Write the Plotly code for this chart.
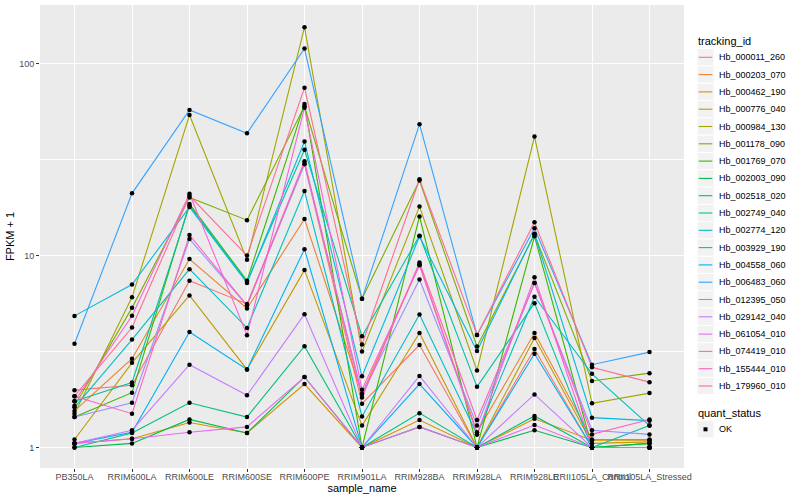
import plotly.graph_objects as go

samples = ["PB350LA", "RRIM600LA", "RRIM600LE", "RRIM600SE", "RRIM600PE", "RRIM901LA",
           "RRIM928BA", "RRIM928LA", "RRIM928LE", "RRII105LA_Control", "RRII105LA_Stressed"]

tracking_ids = ["Hb_000011_260", "Hb_000203_070", "Hb_000462_190", "Hb_000776_040", "Hb_000984_130",
                "Hb_001178_090", "Hb_001769_070", "Hb_002003_090", "Hb_002518_020", "Hb_002749_040",
                "Hb_002774_120", "Hb_003929_190", "Hb_004558_060", "Hb_006483_060", "Hb_012395_050",
                "Hb_029142_040", "Hb_061054_010", "Hb_074419_010", "Hb_155444_010", "Hb_179960_010"]

colors = ["#F8766D", "#EA8331", "#D89000", "#C09B00", "#A3A500", "#7CAE00", "#39B600", "#00BB4E",
          "#00BF7D", "#00C1A3", "#00BFC4", "#00BAE0", "#00B0F6", "#35A2FF", "#9590FF", "#C77CFF",
          "#E76BF3", "#FA62DB", "#FF62BC", "#FF6C91"]

# FPKM + 1 values per tracking_id, one per sample
Hb_000011_260 = [1.99, 2.11, 7.4, 5.6, 30.0, 1.69, 3.42, 1.0, 3.26, 1.0, 1.0]
Hb_000203_070 = [1.55, 2.90, 9.6, 5.3, 15.5, 1.90, 9.0, 1.2, 3.95, 1.10, 1.10]
Hb_000462_190 = [1.05, 1.11, 1.35, 1.19, 2.14, 1.0, 1.39, 1.0, 1.41, 1.09, 1.09]
Hb_000776_040 = [1.10, 2.76, 6.2, 2.55, 8.4, 1.30, 3.95, 1.0, 3.72, 1.05, 1.07]
Hb_000984_130 = [1.50, 6.06, 54.0, 9.5, 155.0, 3.16, 18.0, 2.52, 41.7, 1.70, 1.92]
Hb_001178_090 = [1.65, 5.34, 20.1, 15.3, 60.0, 5.95, 24.6, 3.36, 12.9, 2.22, 2.44]
Hb_001769_070 = [1.44, 1.93, 18.6, 7.4, 61.6, 1.0, 16.0, 1.0, 12.6, 1.0, 1.05]
Hb_002003_090 = [1.0, 1.05, 1.40, 1.19, 2.33, 1.0, 1.28, 1.0, 1.23, 1.0, 1.05]
Hb_002518_020 = [1.0, 1.19, 1.71, 1.44, 3.37, 1.0, 1.51, 1.0, 1.46, 1.0, 1.0]
Hb_002749_040 = [1.74, 2.18, 18.2, 7.3, 35.6, 3.80, 12.7, 2.07, 5.65, 1.0, 1.30]
Hb_002774_120 = [1.62, 3.65, 8.5, 4.2, 21.7, 1.45, 4.93, 1.17, 6.1, 2.42, 1.30]
Hb_003929_190 = [4.85, 7.07, 17.9, 7.2, 39.3, 2.35, 12.6, 3.18, 13.0, 1.43, 1.38]
Hb_004558_060 = [1.05, 1.20, 4.0, 2.55, 10.8, 1.0, 2.14, 1.0, 3.08, 1.0, 1.0]
Hb_006483_060 = [3.47, 21.1, 57.4, 43.4, 120.0, 5.95, 48.4, 3.86, 13.9, 2.70, 3.14]
Hb_012395_050 = [1.44, 1.71, 12.2, 5.5, 30.0, 1.90, 7.5, 1.30, 7.2, 1.23, 1.17]
Hb_029142_040 = [1.05, 1.23, 2.70, 1.87, 4.95, 1.0, 2.36, 1.0, 1.89, 1.0, 1.0]
Hb_061054_010 = [1.05, 1.11, 1.20, 1.28, 2.33, 1.0, 1.28, 1.0, 1.31, 1.0, 1.0]
Hb_074419_010 = [1.74, 4.86, 21.0, 3.85, 59.0, 2.0, 8.9, 1.17, 7.7, 1.0, 1.0]
Hb_155444_010 = [1.85, 1.50, 12.8, 5.5, 31.0, 1.82, 9.2, 1.39, 7.2, 1.17, 1.40]
Hb_179960_010 = [1.85, 4.22, 20.5, 10.0, 75.0, 3.44, 25.0, 3.86, 14.9, 2.62, 2.19]

series = [Hb_000011_260, Hb_000203_070, Hb_000462_190, Hb_000776_040, Hb_000984_130,
          Hb_001178_090, Hb_001769_070, Hb_002003_090, Hb_002518_020, Hb_002749_040,
          Hb_002774_120, Hb_003929_190, Hb_004558_060, Hb_006483_060, Hb_012395_050,
          Hb_029142_040, Hb_061054_010, Hb_074419_010, Hb_155444_010, Hb_179960_010]

y_ticks = [1, 10, 100]
y_tick_labels = ["1", "10", "100"]
quant_status = "OK"

FONT = "Liberation Sans"
W, H = 800, 500
ML, MR, MT, MB = 40, 116, 5, 32
PW, PH = W - ML - MR, H - MT - MB


def px(xp):  # pixel x -> paper x
    return (xp - ML) / PW


def py(yp):  # pixel y -> paper y
    return (H - MB - yp) / PH


fig = go.Figure()

for i, (tid, vals) in enumerate(zip(tracking_ids, series)):
    fig.add_trace(go.Scatter(
        x=samples, y=vals, mode="lines", name=tid,
        line=dict(color=colors[i], width=1.1),
        hoverinfo="skip", showlegend=False,
    ))

all_x, all_y = [], []
for vals in series:
    all_x += samples
    all_y += vals
fig.add_trace(go.Scatter(
    x=all_x, y=all_y, mode="markers", name=quant_status,
    marker=dict(color="black", size=4.5, symbol="circle"),
    showlegend=False,
))

# hand-built ggplot-style legend
shapes, annotations = [], []
KX0, KX1 = 697, 714
LX = 716.5
annotations.append(dict(text="tracking_id", x=px(696), y=py(40.7), xref="paper", yref="paper",
                        xanchor="left", yanchor="middle", showarrow=False,
                        font=dict(family=FONT, size=11, color="black")))
for i, tid in enumerate(tracking_ids):
    yc = 57.3 + 17.3 * i
    shapes.append(dict(type="rect", xref="paper", yref="paper",
                       x0=px(KX0), x1=px(KX1), y0=py(yc - 8.65), y1=py(yc + 8.65),
                       fillcolor="#F2F2F2", line=dict(color="white", width=1), layer="above"))
    shapes.append(dict(type="line", xref="paper", yref="paper",
                       x0=px(KX0 + 1.7), x1=px(KX1 - 1.7), y0=py(yc), y1=py(yc),
                       line=dict(color=colors[i], width=1.1), layer="above"))
    annotations.append(dict(text=tid, x=px(LX), y=py(yc), xref="paper", yref="paper",
                            xanchor="left", yanchor="middle", showarrow=False,
                            font=dict(family=FONT, size=9, color="black")))

annotations.append(dict(text="quant_status", x=px(696), y=py(412.7), xref="paper", yref="paper",
                        xanchor="left", yanchor="middle", showarrow=False,
                        font=dict(family=FONT, size=11, color="black")))
yc = 429.3
shapes.append(dict(type="rect", xref="paper", yref="paper",
                   x0=px(KX0), x1=px(KX1), y0=py(yc - 8.65), y1=py(yc + 8.65),
                   fillcolor="#F2F2F2", line=dict(color="white", width=1), layer="above"))
shapes.append(dict(type="rect", xref="paper", yref="paper",
                   x0=px(703.5), x1=px(707.5), y0=py(yc - 2), y1=py(yc + 2),
                   fillcolor="black", line=dict(width=0), layer="above"))
annotations.append(dict(text=quant_status, x=px(LX), y=py(yc), xref="paper", yref="paper",
                        xanchor="left", yanchor="middle", showarrow=False,
                        font=dict(family=FONT, size=9, color="black")))

fig.update_layout(
    width=W, height=H,
    margin=dict(l=ML, r=MR, t=MT, b=MB),
    paper_bgcolor="white", plot_bgcolor="#EBEBEB",
    font=dict(family=FONT, size=9, color="#4D4D4D"),
    showlegend=False,
    shapes=shapes, annotations=annotations,
    xaxis=dict(
        type="category", categoryorder="array", categoryarray=samples,
        range=[-0.6, len(samples) - 0.4],
        showgrid=True, gridcolor="white", gridwidth=1.1,
        ticks="outside", ticklen=3, tickcolor="#333333", tickangle=0,
        ticklabelstandoff=-3,
        tickfont=dict(family=FONT, size=9, color="#4D4D4D"),
        title=dict(text="sample_name", font=dict(family=FONT, size=11, color="black"), standoff=0),
        zeroline=False, showline=False,
    ),
    yaxis=dict(
        type="log", range=[-0.107, 2.306],
        tickvals=y_ticks, ticktext=y_tick_labels,
        showgrid=True, gridcolor="white", gridwidth=1.1,
        minor=dict(tickvals=[10 ** 0.5, 10 ** 1.5], showgrid=True, gridcolor="white", gridwidth=0.5, ticks=""),
        ticks="outside", ticklen=3, tickcolor="#333333",
        tickfont=dict(family=FONT, size=9, color="#4D4D4D"),
        title=dict(text="FPKM + 1", font=dict(family=FONT, size=11, color="black"), standoff=2),
        zeroline=False, showline=False,
    ),
)

fig.write_html("out.html", config={"displayModeBar": False},
               post_script="document.body.style.margin='0px';document.body.style.padding='0px';")
